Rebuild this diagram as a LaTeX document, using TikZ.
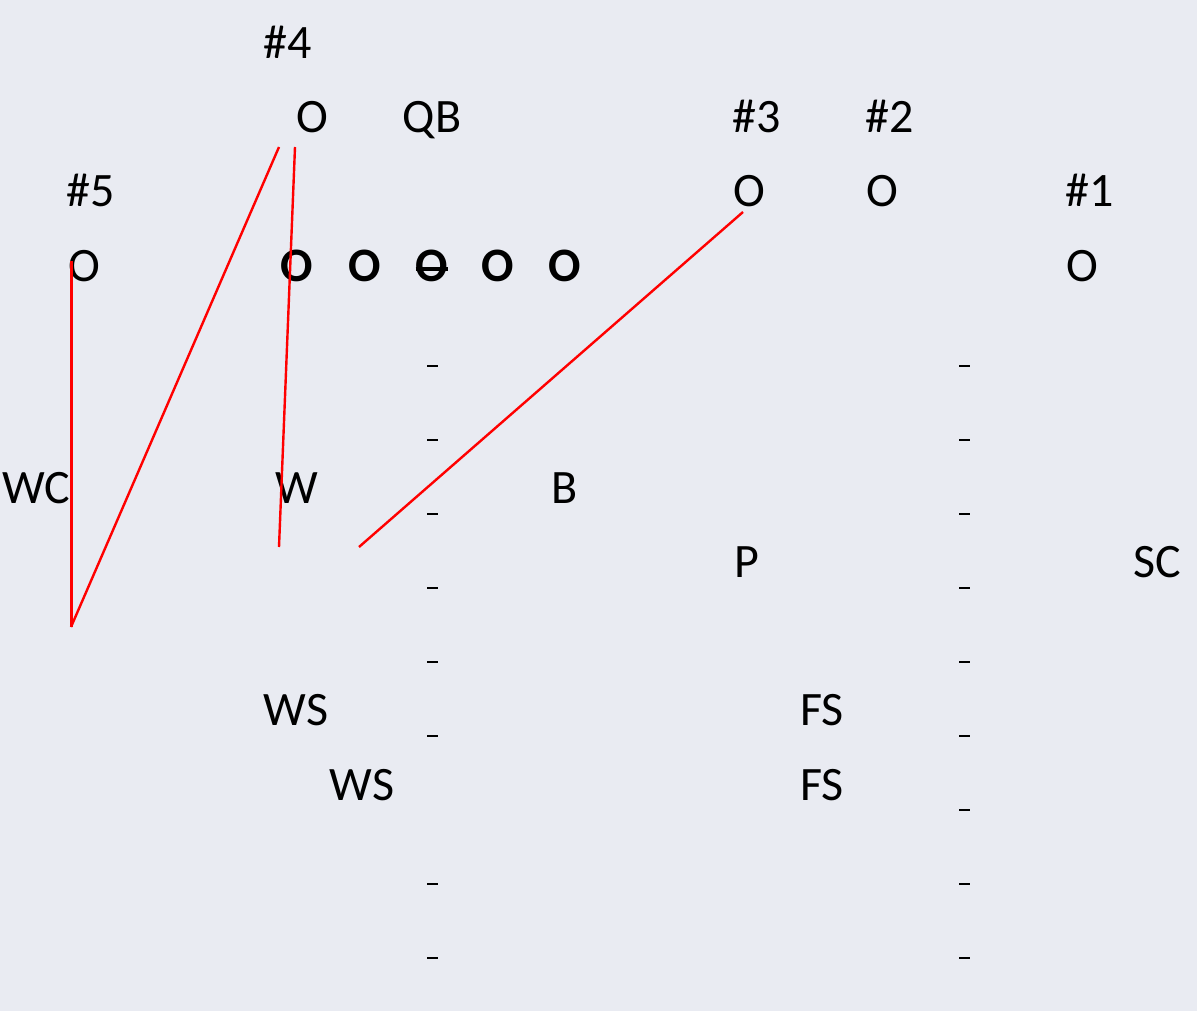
\documentclass[tikz,border=0pt]{standalone}
\usepackage{fontspec}
\setmainfont{Carlito}
\definecolor{bgc}{RGB}{233,235,242}
\definecolor{route}{RGB}{255,0,0}
\tikzset{
  lbl/.style={anchor=base, inner sep=0pt, font=\fontsize{48}{58}\selectfont},
  lineman/.style={lbl, font=\fontsize{48}{58}\selectfont\bfseries},
  yard/.style={line width=1.4pt, black},
  routeline/.style={route, line width=2.4pt},
}
\begin{document}
\begin{tikzpicture}[x=1pt, y=-1pt]
\fill[bgc] (0,0) rectangle (1197,1011);
\useasboundingbox (0,0) rectangle (1197,1011);

% receivers and backfield
\node[lbl] (n4) at (288,59) {\#4};
\node[lbl] (o4) at (312,133) {O};
\node[lbl] (qb) at (432,133) {QB};
\node[lbl] (n3) at (757,133) {\#3};
\node[lbl] (n2) at (890,133) {\#2};
\node[lbl] (n5) at (91,207) {\#5};
\node[lbl] (o3) at (749,207) {O};
\node[lbl] (o2) at (882,207) {O};
\node[lbl] (n1) at (1090,207) {\#1};
\node[lbl] (o5) at (84,281) {O};
\node[lbl] (o1) at (1082,281) {O};

% offensive line
\node[lineman] (lt) at (297,281) {O};
\node[lineman] (lg) at (365,281) {O};
\node[lineman] (c)  at (432,281) {O};
\node[lineman] (rg) at (498,281) {O};
\node[lineman] (rt) at (565,281) {O};
\draw[line width=3.5pt] ([yshift=12pt]c.base west) -- ([yshift=12pt]c.base east);

% defense
\node[lbl] (wc) at (36,503) {WC};
\node[lbl] (w)  at (297,503) {W};
\node[lbl] (b)  at (565,503) {B};
\node[lbl] (p)  at (747,577) {P};
\node[lbl] (sc) at (1157,577) {SC};
\node[lbl] (ws1) at (296,725) {WS};
\node[lbl] (fs1) at (822,725) {FS};
\node[lbl] (ws2) at (362,800) {WS};
\node[lbl] (fs2) at (822,800) {FS};

% hash marks
\foreach \yy in {366,440,514,588,662,736,884,958}
  \draw[yard] (427,\yy) -- (438,\yy);
\foreach \yy in {366,440,514,588,662,736,810,884,958}
  \draw[yard] (959,\yy) -- (970,\yy);

% routes
\coordinate (r5a) at (71,261);
\coordinate (r5b) at (71,627);
\coordinate (r5c) at (279,147);
\coordinate (r4a) at (295,147);
\coordinate (r4b) at (279,547);
\coordinate (r3a) at (743,212);
\coordinate (r3b) at (359,547);
\draw[routeline, line width=3pt] (r5a) -- (r5b);
\draw[routeline] (r5b) -- (r5c);
\draw[routeline] (r4a) -- (r4b);
\draw[routeline] (r3a) -- (r3b);
\end{tikzpicture}
\end{document}
